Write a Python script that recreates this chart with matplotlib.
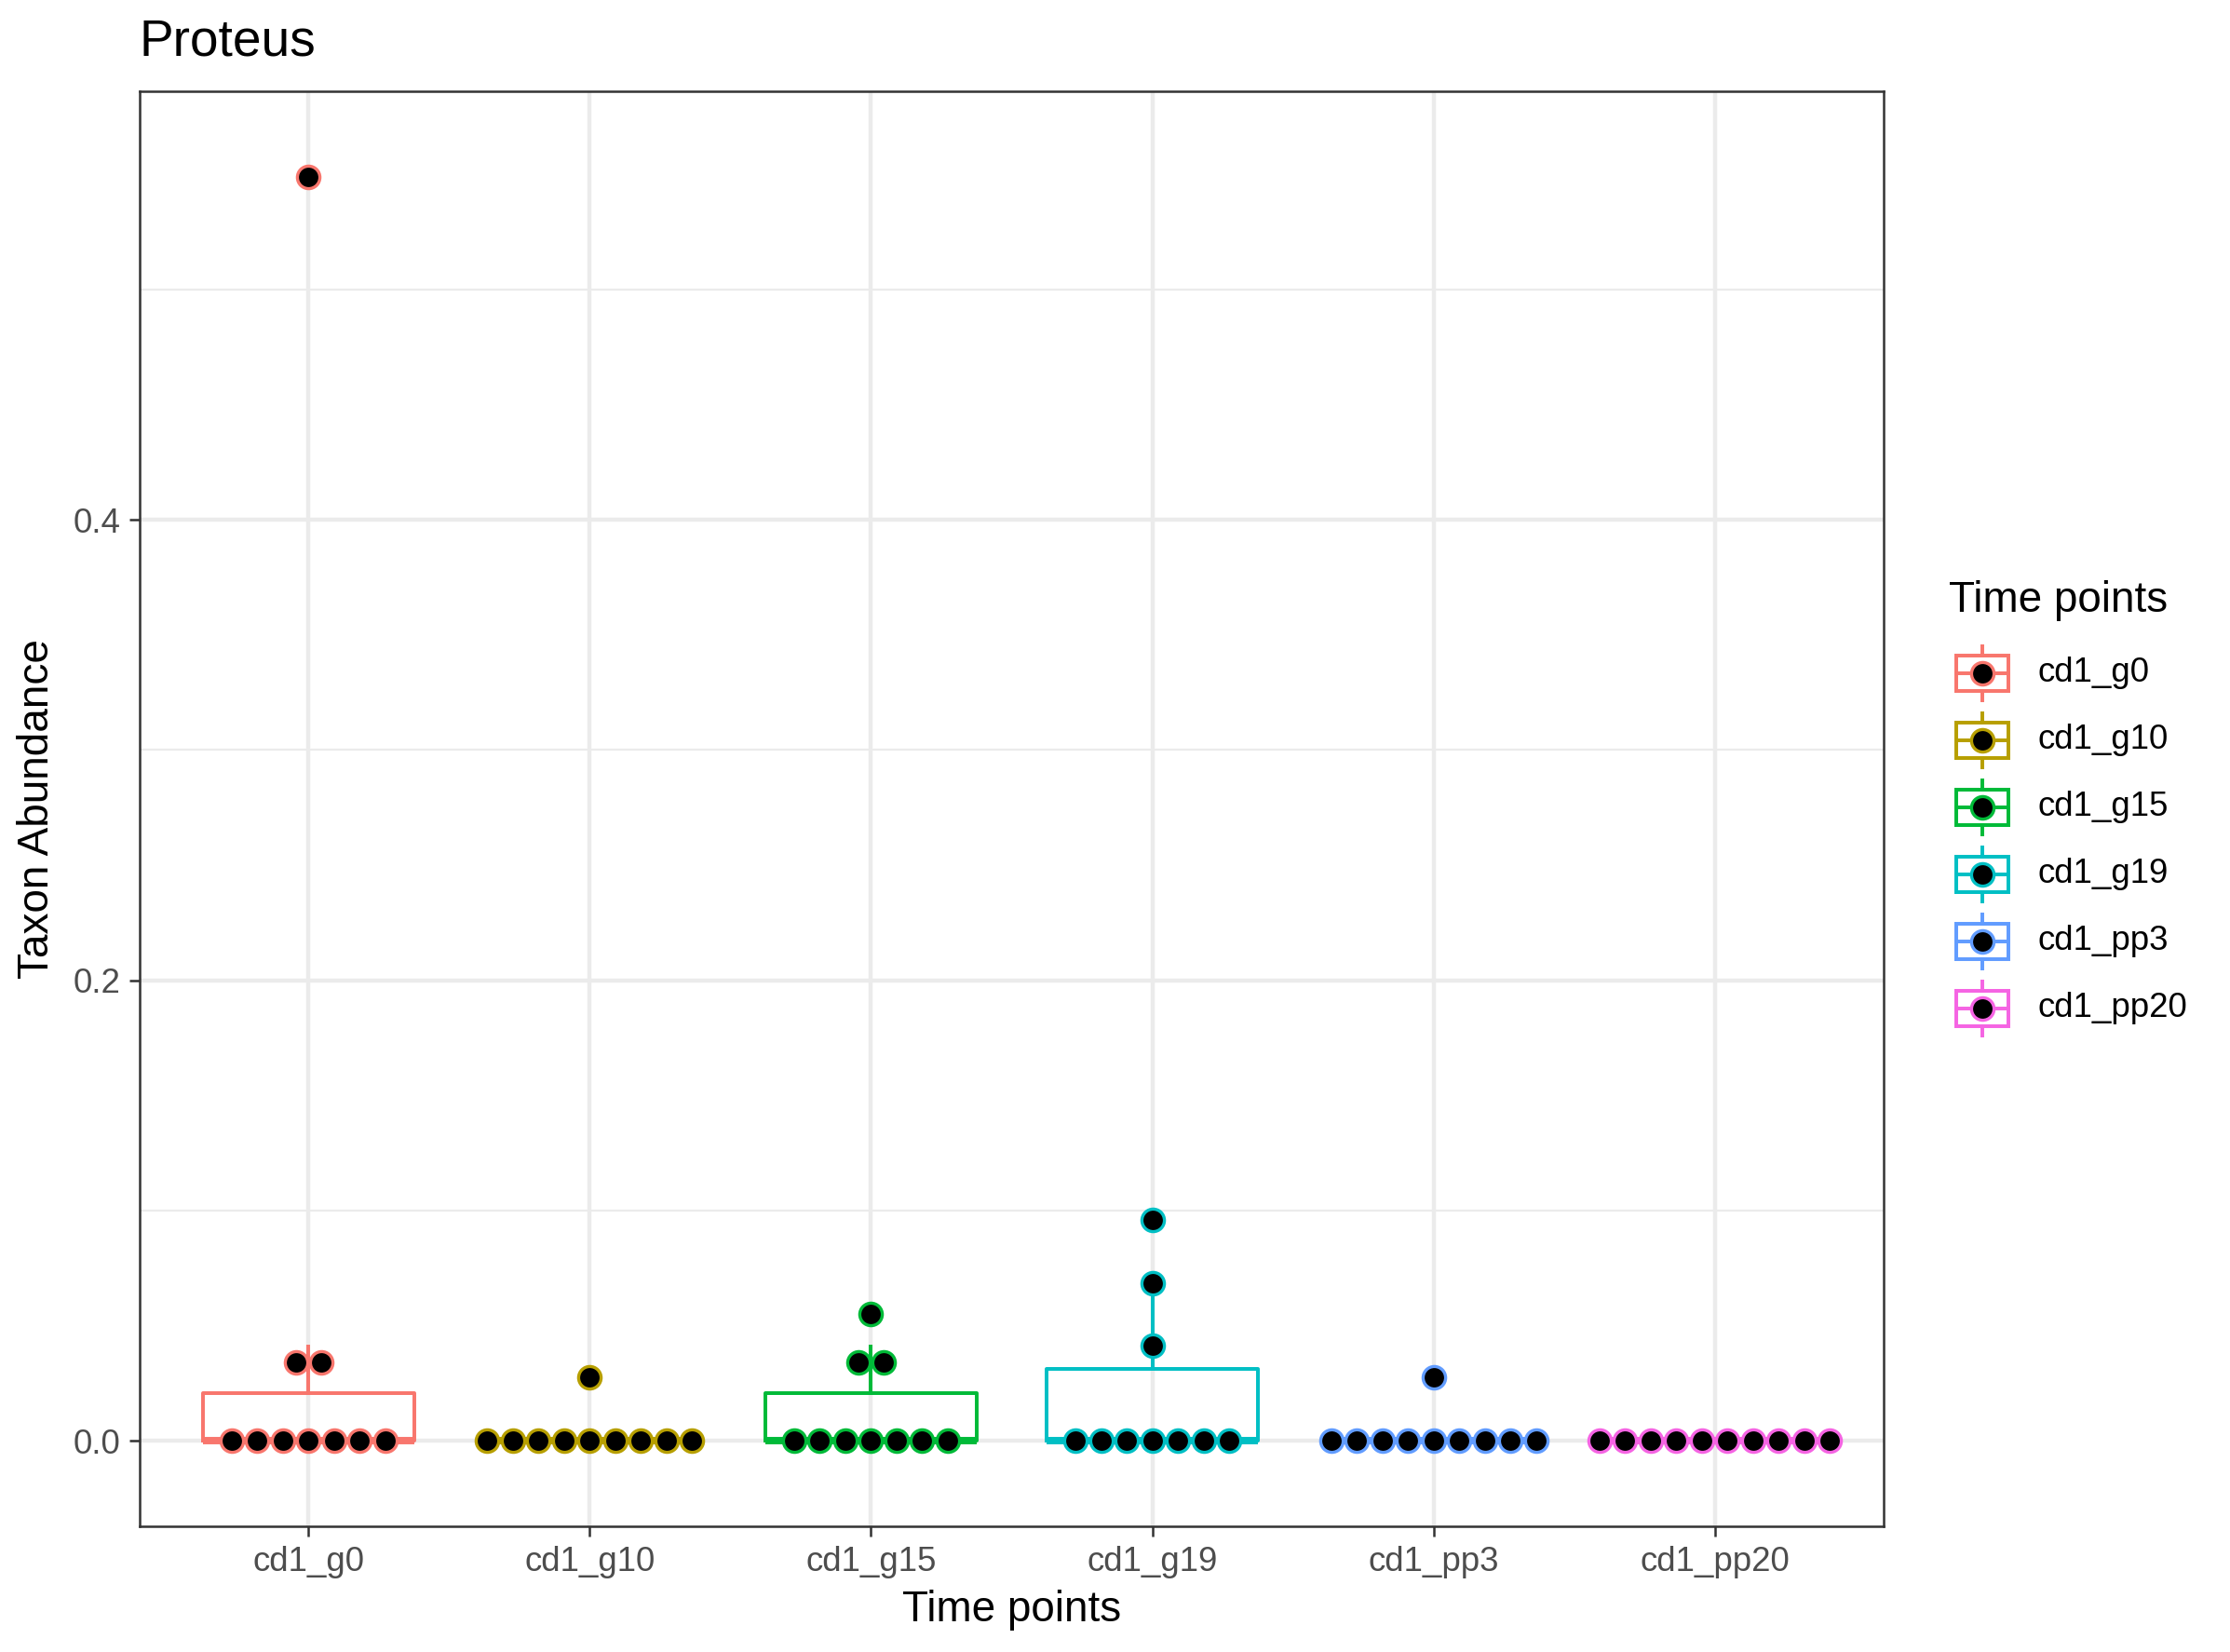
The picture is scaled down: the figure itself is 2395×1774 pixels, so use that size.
import numpy as np
import matplotlib
matplotlib.use("Agg")
import matplotlib.pyplot as plt
from matplotlib.patches import Rectangle

plt.rcParams['font.family'] = ['Liberation Sans', 'DejaVu Sans']

# data
groups = ["cd1_g0", "cd1_g10", "cd1_g15", "cd1_g19", "cd1_pp3", "cd1_pp20"]
colors = ["#F8766D", "#B79F00", "#00BA38", "#00BFC4", "#619CFF", "#F564E3"]
g0 = [0, 0, 0, 0, 0, 0, 0, 0.0275, 0.041, 0.549]
g10 = [0, 0, 0, 0, 0, 0, 0, 0, 0, 0.0275]
g15 = [0, 0, 0, 0, 0, 0, 0, 0.0275, 0.041, 0.055]
g19 = [0, 0, 0, 0, 0, 0, 0, 0.0415, 0.0687, 0.0962]
pp3 = [0, 0, 0, 0, 0, 0, 0, 0, 0, 0.0275]
pp20 = [0, 0, 0, 0, 0, 0, 0, 0, 0, 0]
values = [g0, g10, g15, g19, pp3, pp20]

W, H = 2395, 1774
DPI = 300
fig = plt.figure(figsize=(W / DPI, H / DPI), dpi=DPI)
L, R, T, B = 150, 2023, 98, 1639
ax = fig.add_axes([L / W, 1 - B / H, (R - L) / W, (B - T) / H])

pos = np.arange(1, len(groups) + 1)

# boxes
for i, (v, c) in enumerate(zip(values, colors)):
    ax.boxplot([v], positions=[pos[i]], widths=0.75, whis=1.5, showfliers=False,
               showcaps=False, manage_ticks=False,
               boxprops=dict(color=c, lw=0.95),
               whiskerprops=dict(color=c, lw=0.95),
               medianprops=dict(color=c, lw=1.9, solid_capstyle="butt"))

# dots (dot-density binning, stacked centred along x)
ax.set_xlim(0.4, 6.6)
ax.set_ylim(-0.037, 0.586)
allv = np.concatenate(values)
binwidth = (allv.max() - allv.min()) / 30
dot_px = 27.5
ms, mew = 5.8, 0.8
px_per_x = (R - L) / (ax.get_xlim()[1] - ax.get_xlim()[0])
step = dot_px / px_per_x
for i, (v, c) in enumerate(zip(values, colors)):
    v = sorted(v)
    j = 0
    while j < len(v):
        start = v[j]
        k = j
        while k < len(v) and v[k] - start < binwidth:
            k += 1
        members = v[j:k]
        center = (members[0] + members[-1]) / 2
        n = len(members)
        xs = pos[i] + (np.arange(n) - (n - 1) / 2) * step
        ax.plot(xs, [center] * n, ls="none", marker="o", ms=ms,
                mfc="black", mec=c, mew=mew, zorder=5)
        j = k

# grid (theme_bw look)
ax.set_yticks([0.0, 0.2, 0.4])
ax.set_yticklabels(["0.0", "0.2", "0.4"])
ax.set_yticks([0.1, 0.3, 0.5], minor=True)
ax.set_xticks(pos)
ax.set_xticklabels(groups)
ax.grid(which="major", color="#EBEBEB", lw=1.07)
ax.grid(which="minor", axis="y", color="#EBEBEB", lw=0.53)
ax.set_axisbelow(True)
for s in ax.spines.values():
    s.set_color("#333333")
    s.set_linewidth(0.6)
ax.tick_params(which="major", length=2.75, width=0.6, color="#333333",
               labelsize=8.8, labelcolor="#4D4D4D", pad=2.2)
ax.tick_params(which="minor", length=0)

ax.set_xlabel("Time points", fontsize=11, labelpad=3)
ax.set_ylabel("Taxon Abundance", fontsize=11, labelpad=4)
fig.text(L / W, 1 - 46 / H, "Proteus", fontsize=13.2, ha="left", va="center")

# legend, drawn in pixel coordinates
lg = fig.add_axes([0, 0, 1, 1])
lg.set_xlim(0, W)
lg.set_ylim(H, 0)
lg.axis("off")
lg.text(2093, 645, "Time points", fontsize=11, ha="left", va="center")
kx = 2129
for i, (g, c) in enumerate(zip(groups, colors)):
    ky = 723 + i * 72
    lg.add_patch(Rectangle((kx - 28, ky - 19), 56, 38, fill=False, ec=c, lw=0.95))
    lg.plot([kx, kx], [ky - 29, ky - 19], color=c, lw=0.95)
    lg.plot([kx, kx], [ky + 19, ky + 29], color=c, lw=0.95)
    lg.plot([kx - 28, kx + 28], [ky, ky], color=c, lw=0.95)
    lg.plot([kx], [ky], ls="none", marker="o", ms=ms, mfc="black", mec=c, mew=mew)
    lg.text(2188, ky, g, fontsize=8.8, ha="left", va="center")

fig.savefig("out.png", dpi=DPI)
